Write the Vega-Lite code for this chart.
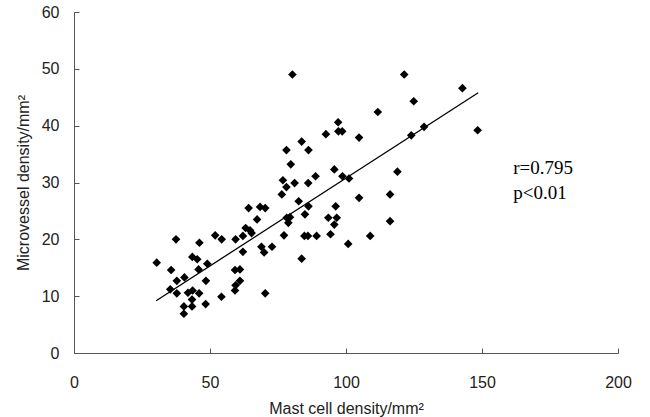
{
  "$schema": "https://vega.github.io/schema/vega-lite/v6.json",
  "width": 544,
  "height": 341,
  "autosize": {"type": "none"},
  "padding": {"left": 74, "top": 12, "right": 32, "bottom": 64},
  "background": "white",
  "config": {"view": {"stroke": null}},
  "datasets": {
    "pts": [
      {"mast": 30.4, "mvd": 15.9}, {"mast": 35.7, "mvd": 14.6}, {"mast": 37.5, "mvd": 20.0},
      {"mast": 37.8, "mvd": 12.7}, {"mast": 40.6, "mvd": 13.3}, {"mast": 35.4, "mvd": 11.2},
      {"mast": 37.8, "mvd": 10.5}, {"mast": 43.5, "mvd": 16.9}, {"mast": 45.3, "mvd": 16.5},
      {"mast": 46.1, "mvd": 19.4}, {"mast": 45.8, "mvd": 14.7}, {"mast": 49.0, "mvd": 15.7},
      {"mast": 48.5, "mvd": 12.7}, {"mast": 41.9, "mvd": 10.6}, {"mast": 43.6, "mvd": 11.0},
      {"mast": 46.0, "mvd": 10.5}, {"mast": 43.4, "mvd": 9.4}, {"mast": 40.4, "mvd": 8.2},
      {"mast": 43.4, "mvd": 8.2}, {"mast": 40.4, "mvd": 6.9}, {"mast": 48.4, "mvd": 8.6},
      {"mast": 51.9, "mvd": 20.7}, {"mast": 54.3, "mvd": 20.0}, {"mast": 54.2, "mvd": 9.9},
      {"mast": 59.4, "mvd": 20.0}, {"mast": 62.1, "mvd": 20.6}, {"mast": 62.1, "mvd": 17.8},
      {"mast": 63.1, "mvd": 22.0}, {"mast": 64.2, "mvd": 25.5}, {"mast": 64.7, "mvd": 21.6},
      {"mast": 65.3, "mvd": 21.1}, {"mast": 67.3, "mvd": 23.5}, {"mast": 68.4, "mvd": 25.7},
      {"mast": 70.3, "mvd": 25.5}, {"mast": 68.9, "mvd": 18.7}, {"mast": 69.9, "mvd": 17.7},
      {"mast": 72.8, "mvd": 18.7}, {"mast": 70.3, "mvd": 10.5}, {"mast": 59.2, "mvd": 14.6},
      {"mast": 61.0, "mvd": 14.7}, {"mast": 61.0, "mvd": 12.7}, {"mast": 59.4, "mvd": 11.9},
      {"mast": 59.2, "mvd": 11.0}, {"mast": 76.4, "mvd": 27.9}, {"mast": 78.1, "mvd": 29.2},
      {"mast": 81.1, "mvd": 29.9}, {"mast": 86.1, "mvd": 29.9}, {"mast": 76.8, "mvd": 30.4},
      {"mast": 82.6, "mvd": 26.7}, {"mast": 86.2, "mvd": 25.8}, {"mast": 84.9, "mvd": 24.4},
      {"mast": 78.2, "mvd": 23.8}, {"mast": 79.4, "mvd": 23.9}, {"mast": 78.8, "mvd": 22.9},
      {"mast": 77.2, "mvd": 20.7}, {"mast": 84.7, "mvd": 20.6}, {"mast": 86.0, "mvd": 20.6},
      {"mast": 89.2, "mvd": 20.6}, {"mast": 83.7, "mvd": 16.6}, {"mast": 93.5, "mvd": 23.8},
      {"mast": 96.2, "mvd": 25.8}, {"mast": 96.6, "mvd": 23.8}, {"mast": 95.7, "mvd": 22.6},
      {"mast": 94.3, "mvd": 20.9}, {"mast": 100.8, "mvd": 19.2}, {"mast": 104.8, "mvd": 27.3},
      {"mast": 116.2, "mvd": 27.9}, {"mast": 108.9, "mvd": 20.6}, {"mast": 116.2, "mvd": 23.2},
      {"mast": 101.1, "mvd": 30.7}, {"mast": 98.7, "mvd": 31.1}, {"mast": 95.7, "mvd": 32.3},
      {"mast": 88.8, "mvd": 31.1}, {"mast": 86.2, "mvd": 35.7}, {"mast": 83.7, "mvd": 37.2},
      {"mast": 78.1, "mvd": 35.7}, {"mast": 79.7, "mvd": 33.2}, {"mast": 80.3, "mvd": 49.0},
      {"mast": 97.1, "mvd": 40.6}, {"mast": 92.6, "mvd": 38.5}, {"mast": 97.2, "mvd": 39.0},
      {"mast": 98.6, "mvd": 39.0}, {"mast": 104.8, "mvd": 37.9}, {"mast": 111.7, "mvd": 42.4},
      {"mast": 121.4, "mvd": 49.0}, {"mast": 124.9, "mvd": 44.3}, {"mast": 128.7, "mvd": 39.8},
      {"mast": 124.0, "mvd": 38.3}, {"mast": 142.8, "mvd": 46.6}, {"mast": 148.4, "mvd": 39.2},
      {"mast": 118.9, "mvd": 31.9}
    ],
    "fit": [
      {"mast": 30.2, "mvd": 9.2},
      {"mast": 148.6, "mvd": 45.8}
    ],
    "notes": [
      {"mast": 161.5, "mvd": 32.5, "label": "r=0.795"},
      {"mast": 161.5, "mvd": 28.1, "label": "p<0.01"}
    ]
  },
  "layer": [
    {
      "data": {"name": "pts"},
      "mark": {"type": "point", "shape": "diamond", "filled": true, "color": "black", "size": 75, "opacity": 1},
      "encoding": {
        "x": {
          "field": "mast", "type": "quantitative",
          "scale": {"domain": [0, 200], "nice": false},
          "axis": {
            "values": [0, 50, 100, 150, 200],
            "title": "Mast cell density/mm²",
            "grid": false,
            "domainColor": "#555555", "tickColor": "#555555", "tickSize": -5,
            "labelFont": "Liberation Sans", "labelFontSize": 16, "labelColor": "#222222",
            "labelPadding": 26, "labelFlush": false,
            "titleFont": "Liberation Sans", "titleFontSize": 16, "titleFontWeight": "normal",
            "titleColor": "#222222", "titlePadding": 10
          }
        },
        "y": {
          "field": "mvd", "type": "quantitative",
          "scale": {"domain": [0, 60], "nice": false},
          "axis": {
            "values": [0, 10, 20, 30, 40, 50, 60],
            "title": "Microvessel density/mm²",
            "grid": false,
            "domainColor": "#555555", "tickColor": "#555555", "tickSize": -5,
            "labelFont": "Liberation Sans", "labelFontSize": 16, "labelColor": "#222222",
            "labelPadding": 20,
            "titleFont": "Liberation Sans", "titleFontSize": 16, "titleFontWeight": "normal",
            "titleColor": "#222222", "titlePadding": 10
          }
        }
      }
    },
    {
      "data": {"name": "fit"},
      "mark": {"type": "line", "color": "black", "strokeWidth": 1.3},
      "encoding": {
        "x": {"field": "mast", "type": "quantitative"},
        "y": {"field": "mvd", "type": "quantitative"}
      }
    },
    {
      "data": {"name": "notes"},
      "mark": {"type": "text", "align": "left", "baseline": "middle", "font": "Liberation Serif", "fontSize": 19, "color": "black"},
      "encoding": {
        "x": {"field": "mast", "type": "quantitative"},
        "y": {"field": "mvd", "type": "quantitative"},
        "text": {"field": "label"}
      }
    }
  ]
}
